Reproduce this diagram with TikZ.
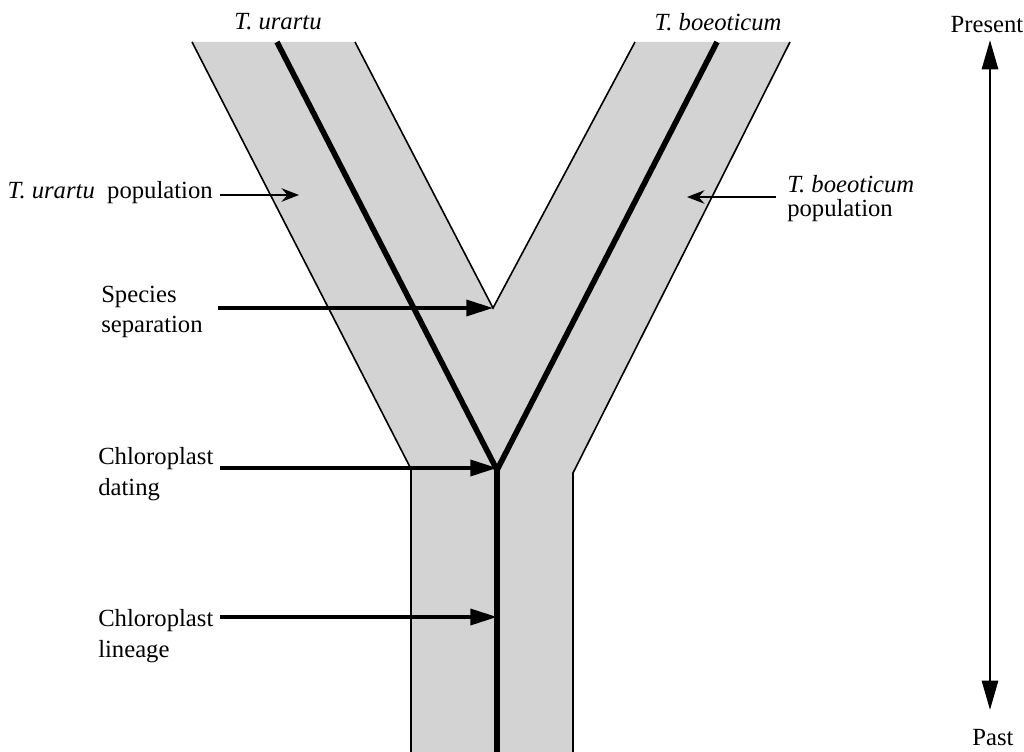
\documentclass[tikz,border=0pt]{standalone}
\usepackage{fontspec}
\setmainfont{Liberation Serif}
\usetikzlibrary{arrows.meta}
\definecolor{popgray}{RGB}{211,211,211}
\tikzset{
  lbl/.style={font=\fontsize{18.5}{21}\selectfont, inner sep=0pt, align=left},
  border/.style={draw=black, line width=1.2pt},
  lineage/.style={draw=black, line width=4.2pt, line join=miter},
  bigarrow/.style={draw=black, line width=2.6pt, -{Triangle[length=20pt,width=12pt]}},
  thinarrow/.style={draw=black, line width=1.9pt, -{Stealth[length=13pt,width=10pt]}},
  timearrow/.style={draw=black, line width=2.1pt, {Triangle[length=22pt,width=12pt]}-{Triangle[length=22pt,width=12pt]}}
}
\begin{document}
\begin{tikzpicture}[x=0.75pt,y=-0.75pt]
\useasboundingbox (0,0) rectangle (1024,752);
% population band
\fill[popgray] (192,42) -- (355,42) -- (493,308) -- (635,42) -- (790,42) -- (573,473) -- (573,752) -- (411,752) -- (411,469) -- cycle;
\draw[border] (192,42) -- (411,469) -- (411,752);
\draw[border] (355,42) -- (493,308) -- (635,42);
\draw[border] (790,42) -- (573,473) -- (573,752);
% chloroplast lineage
\coordinate (ltop) at (277,42);
\coordinate (rtop) at (717,42);
\coordinate (junc) at (497,470);
\coordinate (bot) at (497,752);
\draw[lineage] (ltop) -- (junc) -- (rtop);
\draw[lineage] (junc) -- (bot);
% top labels
\node[lbl, font=\fontsize{18.5}{21}\selectfont\itshape] (tu) at (278,22) {T. urartu};
\node[lbl, font=\fontsize{18.5}{21}\selectfont\itshape] (tb) at (718,22) {T. boeoticum};
% population labels
\node[lbl, anchor=east] (tup) at (213,193) {\textit{T. urartu}\ \ population};
\coordinate (tupT) at (299,195);
\draw[thinarrow] (220,195) -- (tupT);
\node[lbl, anchor=west] (tbp) at (787,199) {\textit{T. boeoticum}\\[-3pt]population};
\coordinate (tbpT) at (687,197);
\draw[thinarrow] (776,197) -- (tbpT);
% species separation
\node[lbl, anchor=west] (sp) at (101,312) {Species\\[2pt]separation};
\coordinate (spT) at (493,308);
\draw[bigarrow] (218,308) -- (spT);
% chloroplast dating
\node[lbl, anchor=west] (cd) at (98,474) {Chloroplast\\[2pt]dating};
\coordinate (cdT) at (497,468);
\draw[bigarrow] (220,468) -- (cdT);
% chloroplast lineage
\node[lbl, anchor=west] (cl) at (98,636) {Chloroplast\\[2pt]lineage};
\coordinate (clT) at (497,617);
\draw[bigarrow] (220,617) -- (clT);
% time axis
\node[lbl] (present) at (987,25) {Present};
\node[lbl] (past) at (993,738) {Past};
\coordinate (tTop) at (990,40);
\coordinate (tBot) at (990,710);
\draw[timearrow] (tTop) -- (tBot);
\end{tikzpicture}
\end{document}
